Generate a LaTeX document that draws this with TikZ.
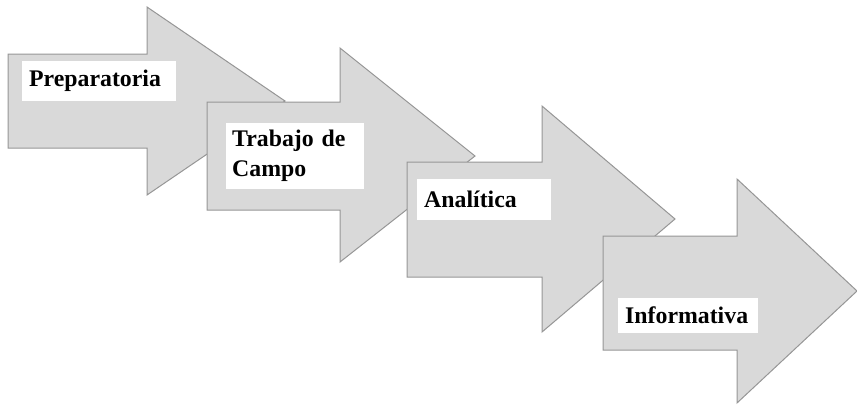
\documentclass[tikz,border=0pt]{standalone}
\usepackage{fontspec}
\setmainfont{Liberation Serif}
\usepackage{tikz}
\usetikzlibrary{calc}

\definecolor{flechagris}{RGB}{217,217,217}
\definecolor{bordegris}{RGB}{150,150,150}

\tikzset{
	flecha/.style={fill=flechagris,draw=bordegris,line width=1pt,line join=miter},
	etiqueta/.style={fill=white,inner xsep=7pt,inner ysep=0pt,align=left,anchor=north west,
		font=\fontsize{23.8}{30}\selectfont\bfseries}
}

\begin{document}
\begin{tikzpicture}[x=1pt,y=-1pt]
				\useasboundingbox (0,0) rectangle (857,405);
				
				% left / shaft top / shaft bottom / head base / head top / head bottom / tip x / tip y
				\foreach \xl/\st/\sb/\xb/\ht/\hb/\xt/\yt in {8/54/148/147/7/195/285/101,
						207/102/210/340/48/262/475/156,
						407/162/277/542/106/332/675/219,
						603/236/350/737/179/403/857/291}{
					\draw[flecha] (\xl,\st) -- (\xb,\st) -- (\xb,\ht) -- (\xt,\yt) -- (\xb,\hb) -- (\xb,\sb) -- (\xl,\sb) -- cycle;
				}
				
				\node[etiqueta,text width=140,minimum height=40] (prep) at (22,61) {Preparatoria};
				\node[etiqueta,text width=126,minimum height=66,inner xsep=6pt] (campo) at (226,123) {Trabajo de\\Campo};
				\node[etiqueta,text width=120,minimum height=41] (anal) at (417,179) {Analítica};
				\node[etiqueta,text width=126,minimum height=35] (info) at (618,298) {Informativa};
			\end{tikzpicture}
\end{document}
